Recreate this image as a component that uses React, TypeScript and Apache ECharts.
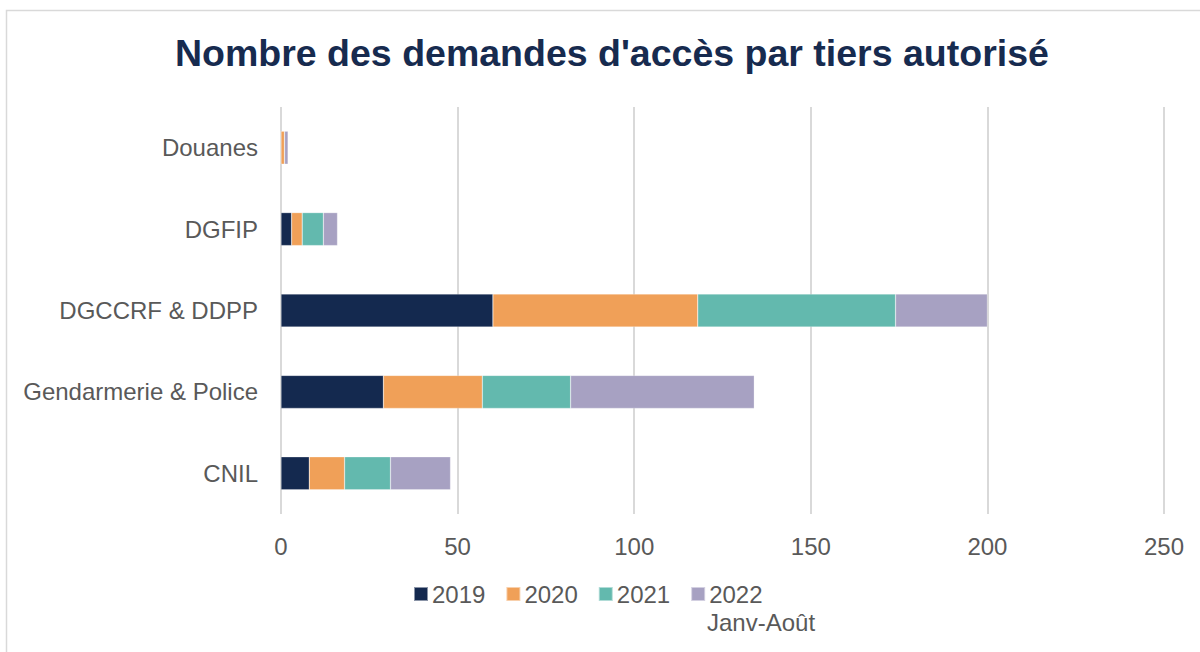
import React, { useEffect, useRef } from "react";
import * as echarts from "echarts";

const categories = ["CNIL", "Gendarmerie & Police", "DGCCRF & DDPP", "DGFIP", "Douanes"];
const seriesNames = ["2019", "2020", "2021", "2022"];
const values2019 = [8, 29, 60, 3, 0];
const values2020 = [10, 28, 58, 3, 1];
const values2021 = [13, 25, 56, 6, 0];
const values2022 = [17, 52, 26, 4, 1];
const xTicks = [0, 50, 100, 150, 200, 250];
const colors = ["#14294f", "#f0a058", "#63b9ae", "#a7a1c2"];

export default function App() {
  const ref = useRef<HTMLDivElement>(null);
  useEffect(() => {
    if (!ref.current) return;
    const chart = echarts.init(ref.current, null, { renderer: "svg" });
    const data = [values2019, values2020, values2021, values2022];
    chart.setOption({
      animation: false,
      backgroundColor: "#ffffff",
      title: {
        text: "Nombre des demandes d'accès par tiers autorisé",
        left: 170,
        top: 29,
        textStyle: {
          fontFamily: "Liberation Sans, Arial, sans-serif",
          fontWeight: "bold",
          fontSize: 37.5,
          color: "#172b4f",
        },
      },
      grid: { left: 281, right: 36, top: 107, bottom: 138 },
      xAxis: {
        type: "value",
        min: xTicks[0],
        max: xTicks[xTicks.length - 1],
        interval: 50,
        axisLine: { show: false },
        axisTick: { show: false },
        splitLine: { show: true, lineStyle: { color: "#d9d9d9", width: 2 } },
        axisLabel: {
          margin: 20,
          fontFamily: "Liberation Sans, Arial, sans-serif",
          fontSize: 24,
          color: "#595959",
        },
      },
      yAxis: {
        type: "category",
        data: categories,
        axisLine: { show: false },
        axisTick: { show: false },
        axisLabel: {
          margin: 23,
          fontFamily: "Liberation Sans, Arial, sans-serif",
          fontSize: 24,
          color: "#595959",
        },
      },
      legend: {
        data: seriesNames,
        bottom: 41,
        left: 408,
        itemWidth: 14,
        itemHeight: 14,
        itemGap: 20,
        icon: "rect",
        textStyle: {
          fontFamily: "Liberation Sans, Arial, sans-serif",
          fontSize: 24,
          color: "#595959",
          padding: [0, 0, 0, -1],
        },
      },
      series: seriesNames.map((name, i) => ({
        name,
        type: "bar",
        stack: "total",
        barWidth: 33,
        data: data[i],
        itemStyle: { color: colors[i], borderColor: "rgba(255,255,255,0.5)", borderWidth: 0.5 },
      })),
      graphic: [
        {
          type: "rect",
          shape: { x: 6.5, y: 10.5, width: 1300, height: 800 },
          style: { fill: "none", stroke: "#d9d9d9", lineWidth: 1.5 },
          silent: true,
        },
        {
          type: "text",
          x: 707,
          y: 610,
          style: {
            text: "Janv-Août",
            fontFamily: "Liberation Sans, Arial, sans-serif",
            fontSize: 24,
            fill: "#595959",
          },
        },
      ],
    });
    return () => chart.dispose();
  }, []);
  return (
    <div
      ref={ref}
      style={{ position: "fixed", left: 0, top: 0, width: 1200, height: 652 }}
    />
  );
}
